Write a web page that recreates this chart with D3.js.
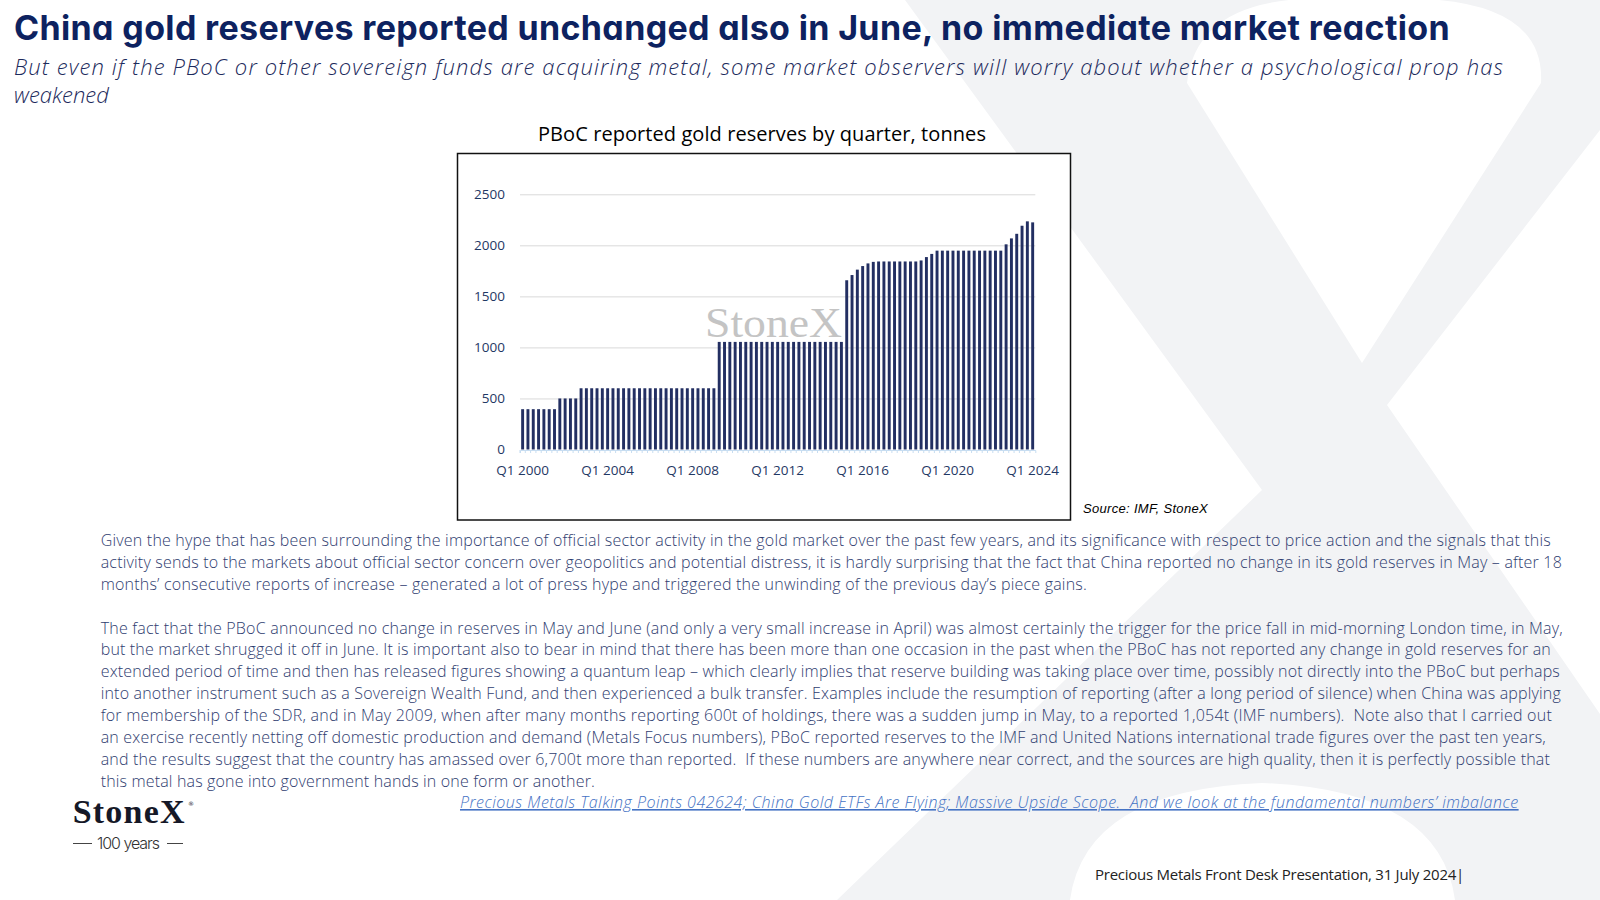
<!DOCTYPE html>
<html>
<head>
<meta charset="utf-8">
<script src="https://cdn.jsdelivr.net/npm/d3@7"></script>
<style>
  body { margin: 0; background: #fff; }
  svg text { white-space: pre; }
</style>
</head>
<body>
<script>
// categories: Q1 2000 .. Q1 2024
var quarters = [];
for (var yr = 2000; yr <= 2024; yr++) {
  for (var q = 1; q <= 4; q++) {
    if (yr === 2024 && q > 1) break;
    quarters.push("Q" + q + " " + yr);
  }
}

// PBoC reported gold reserves, tonnes
var reserves = [
  395, 395, 395, 395, 395, 395, 395, 500,          // 2000 - 2001
  500, 500, 500, 600, 600, 600, 600, 600,          // 2002 - 2003
  600, 600, 600, 600, 600, 600, 600, 600,          // 2004 - 2005
  600, 600, 600, 600, 600, 600, 600, 600,          // 2006 - 2007
  600, 600, 600, 600, 600, 1054, 1054, 1054,       // 2008 - 2009
  1054, 1054, 1054, 1054, 1054, 1054, 1054, 1054,  // 2010 - 2011
  1054, 1054, 1054, 1054, 1054, 1054, 1054, 1054,  // 2012 - 2013
  1054, 1054, 1054, 1054, 1054, 1658, 1709, 1762,  // 2014 - 2015
  1797, 1823, 1838, 1842, 1842, 1842, 1842, 1842,  // 2016 - 2017
  1842, 1842, 1842, 1852, 1885, 1916, 1948, 1948,  // 2018 - 2019
  1948, 1948, 1948, 1948, 1948, 1948, 1948, 1948,  // 2020 - 2021
  1948, 1948, 1948, 2010, 2068, 2113, 2192, 2235,  // 2022 - 2023
  2225                                             // 2024
];

var xTickLabels = ["Q1 2000", "Q1 2004", "Q1 2008", "Q1 2012", "Q1 2016", "Q1 2020", "Q1 2024"];
var yTicks = [0, 500, 1000, 1500, 2000, 2500];

var titleText = "China gold reserves reported unchanged also in June, no immediate market reaction";
var subtitleLines = [
  "But even if the PBoC or other sovereign funds are acquiring metal, some market observers will worry about whether a psychological prop has",
  "weakened"
];
var chartTitle = "PBoC reported gold reserves by quarter, tonnes";
var sourceText = "Source: IMF, StoneX";

var para1 = [
  "Given the hype that has been surrounding the importance of official sector activity in the gold market over the past few years, and its significance with respect to price action and the signals that this",
  "activity sends to the markets about official sector concern over geopolitics and potential distress, it is hardly surprising that the fact that China reported no change in its gold reserves in May \u2013 after 18",
  "months\u2019 consecutive reports of increase \u2013 generated a lot of press hype and triggered the unwinding of the previous day\u2019s piece gains."
];
var para1Ends = [1551, 1562, 1087];

var para2 = [
  "The fact that the PBoC announced no change in reserves in May and June (and only a very small increase in April) was almost certainly the trigger for the price fall in mid-morning London time, in May,",
  "but the market shrugged it off in June. It is important also to bear in mind that there has been more than one occasion in the past when the PBoC has not reported any change in gold reserves for an",
  "extended period of time and then has released figures showing a quantum leap \u2013 which clearly implies that reserve building was taking place over time, possibly not directly into the PBoC but perhaps",
  "into another instrument such as a Sovereign Wealth Fund, and then experienced a bulk transfer. Examples include the resumption of reporting (after a long period of silence) when China was applying",
  "for membership of the SDR, and in May 2009, when after many months reporting 600t of holdings, there was a sudden jump in May, to a reported 1,054t (IMF numbers).  Note also that I carried out",
  "an exercise recently netting off domestic production and demand (Metals Focus numbers), PBoC reported reserves to the IMF and United Nations international trade figures over the past ten years,",
  "and the results suggest that the country has amassed over 6,700t more than reported.  If these numbers are anywhere near correct, and the sources are high quality, then it is perfectly possible that",
  "this metal has gone into government hands in one form or another."
];
var para2Ends = [1563, 1551, 1560, 1561, 1552, 1546, 1550, 595];

var linkText = "Precious Metals Talking Points 042624; China Gold ETFs Are Flying; Massive Upside Scope.  And we look at the fundamental numbers\u2019 imbalance";
var footerText = "Precious Metals Front Desk Presentation, 31 July 2024|";

var W = 1600, H = 900;
var navy = "#0d2260";
var textBlue = "#2f3d70";

// squeeze or widen a text to a given width by letter spacing
function fit(sel, width) {
  sel.each(function(d, i){
    var target = typeof width === "function" ? width(d, i) : width;
    var w0 = this.getComputedTextLength();
    var n = this.textContent.length;
    d3.select(this).style("letter-spacing", ((target - w0) / n) + "px");
  });
}

var svg = d3.select("body").append("svg")
  .attr("width", W)
  .attr("height", H);

svg.append("rect").attr("width", W).attr("height", H).attr("fill", "#fff");

// big pale X in the background
svg.append("path")
  .attr("d", "M905,0 L1289,0 Q1195,10 1187,83 L1362,363 L1541,83 Q1545,10 1439,0 L1600,0 L1600,130 " +
             "L1387,405 L1600,714 L1600,900 L1455,900 Q1440,790 1262,783 Q1085,790 1070,900 L837,900 L1262,490 Z")
  .attr("fill", "#f2f3f5");

// headline + subtitle
svg.append("text")
  .attr("x", 14).attr("y", 40)
  .style("font-family", "Inter, 'DejaVu Sans', sans-serif")
  .style("font-feature-settings", "'cv11' 1")
  .style("font-weight", 650)
  .style("font-size", "34px")
  .attr("fill", navy)
  .text(titleText)
  .call(fit, 1436);

var sub = svg.append("text")
  .attr("x", 14).attr("y", 75)
  .style("font-family", "'Open Sans', sans-serif")
  .style("font-style", "italic")
  .style("font-weight", 300)
  .style("font-size", "22px")
  .attr("fill", "#1c2a5c");
sub.selectAll("tspan")
  .data(subtitleLines)
  .enter().append("tspan")
  .attr("x", 14)
  .attr("y", function(d, i){ return 75 + i * 28; })
  .text(function(d){ return d; });
// match the first line's width
(function(){
  var first = sub.select("tspan").node();
  var w0 = first.getComputedTextLength();
  sub.select("tspan").style("letter-spacing", ((1490 - w0) / subtitleLines[0].length) + "px");
})();

// chart frame
svg.append("rect")
  .attr("x", 457.5).attr("y", 153.5)
  .attr("width", 613).attr("height", 366.5)
  .attr("fill", "#fff")
  .attr("stroke", "#111")
  .attr("stroke-width", 1.5);

svg.append("text")
  .attr("x", 538).attr("y", 140.5)
  .style("font-family", "'Open Sans', sans-serif")
  .style("font-size", "20px")
  .attr("fill", "#000")
  .text(chartTitle)
  .call(fit, 448);

var x = d3.scaleBand()
  .domain(quarters)
  .range([520, 1035.3])
  .paddingInner(0.45)
  .paddingOuter(0.22);

var y = d3.scaleLinear()
  .domain([0, 2500])
  .range([449.5, 194.3]);

// gridlines
svg.append("g")
  .attr("transform", "translate(520,0)")
  .call(d3.axisLeft(y).tickValues(yTicks.slice(1)).tickSize(-515.3).tickFormat(""))
  .call(function(g){
    g.select(".domain").remove();
    g.selectAll("line").attr("stroke", "#d9d9d9").attr("stroke-width", 1);
  });

// y labels
svg.append("g")
  .attr("transform", "translate(520,0)")
  .call(d3.axisLeft(y).tickValues(yTicks).tickSize(0).tickPadding(15).tickFormat(d3.format("d")))
  .call(function(g){
    g.select(".domain").remove();
    g.selectAll("text")
      .style("font-family", "'Open Sans', sans-serif")
      .style("font-size", "13.5px")
      .attr("fill", "#1f3864");
  });

// watermark
svg.append("text")
  .attr("x", 705).attr("y", 337)
  .attr("textLength", 137).attr("lengthAdjust", "spacingAndGlyphs")
  .style("font-family", "'Liberation Serif', 'DejaVu Serif', serif")
  .style("font-size", "43px")
  .attr("fill", "#c4c4c4")
  .text("StoneX");

// bars
svg.selectAll(".bar")
  .data(reserves)
  .enter().append("rect")
  .attr("class", "bar")
  .attr("x", function(d, i){ return x(quarters[i]); })
  .attr("y", function(d){ return y(d); })
  .attr("width", x.bandwidth())
  .attr("height", function(d){ return y(0) - y(d); })
  .attr("fill", "#232f62");

// x axis: light blue baseline with a tick per quarter
var step = x.step();
svg.append("g")
  .attr("transform", "translate(0,450)")
  .call(d3.axisBottom(x).tickValues(quarters).tickSize(3).tickFormat(""))
  .call(function(g){
    g.select(".domain").attr("stroke", "#c7ddf1");
    g.selectAll(".tick line").attr("stroke", "#c7ddf1")
      .attr("transform", "translate(" + (-step / 2) + ",0)");
  });

svg.append("g")
  .attr("transform", "translate(0,450)")
  .call(d3.axisBottom(x).tickValues(xTickLabels).tickSize(0).tickPadding(15))
  .call(function(g){
    g.select(".domain").remove();
    g.selectAll("text")
      .style("font-family", "'Open Sans', sans-serif")
      .style("font-size", "13.5px")
      .attr("fill", "#1f3864");
  });

svg.append("text")
  .attr("x", 1083).attr("y", 512.5)
  .style("font-family", "'Liberation Sans', Arial, sans-serif")
  .style("font-style", "italic")
  .style("font-size", "13px")
  .attr("fill", "#000")
  .text(sourceText)
  .call(fit, 125);

// body text
var bodyX = 100.7, lineH = 21.9;
function bodyBlock(lines, ends, top) {
  svg.selectAll(null)
    .data(lines)
    .enter().append("text")
    .attr("x", bodyX)
    .attr("y", function(d, i){ return top + i * lineH; })
    .style("font-family", "'Open Sans', sans-serif")
    .style("font-weight", 300)
    .style("font-size", "16px")
    .attr("fill", textBlue)
    .text(function(d){ return d; })
    .call(fit, function(d, i){ return ends[i] - bodyX; });
}
bodyBlock(para1, para1Ends, 546);
bodyBlock(para2, para2Ends, 633.5);

svg.append("text")
  .attr("x", 460).attr("y", 808)
  .style("font-family", "'Open Sans', sans-serif")
  .style("font-style", "italic")
  .style("font-weight", 300)
  .style("font-size", "16px")
  .style("text-decoration", "underline")
  .attr("fill", "#4472c4")
  .text(linkText)
  .call(fit, 1058.6);

// logo
svg.append("text")
  .attr("x", 72.7).attr("y", 823)
  .style("font-family", "'Liberation Serif', 'DejaVu Serif', serif")
  .style("font-weight", 700)
  .style("font-size", "34px")
  .attr("fill", "#151827")
  .text("StoneX")
  .call(fit, 113);
svg.append("text")
  .attr("x", 188).attr("y", 806)
  .style("font-family", "'DejaVu Sans', sans-serif")
  .style("font-size", "6px")
  .attr("fill", "#151827")
  .text("\u00ae");
svg.append("line").attr("x1", 73).attr("x2", 92).attr("y1", 843.5).attr("y2", 843.5)
  .attr("stroke", "#444").attr("stroke-width", 1);
svg.append("line").attr("x1", 167).attr("x2", 183).attr("y1", 843.5).attr("y2", 843.5)
  .attr("stroke", "#444").attr("stroke-width", 1);
svg.append("text")
  .attr("x", 97).attr("y", 849)
  .style("font-family", "Inter, sans-serif")
  .style("font-weight", 300)
  .style("font-size", "16px")
  .attr("fill", "#333")
  .text("100 years")
  .call(fit, 62);

// footer
svg.append("text")
  .attr("x", 1095).attr("y", 880)
  .style("font-family", "'Open Sans', sans-serif")
  .style("font-size", "15px")
  .attr("fill", "#222")
  .text(footerText)
  .call(fit, 369);
</script>
</body>
</html>
